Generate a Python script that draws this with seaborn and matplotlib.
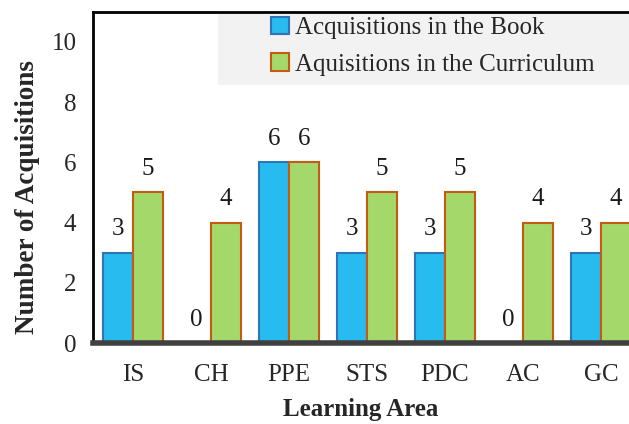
import matplotlib
matplotlib.use("Agg")
import matplotlib.pyplot as plt
import seaborn as sns
import pandas as pd

areas = ["IS", "CH", "PPE", "STS", "PDC", "AC", "GC"]
book = [3, 0, 6, 3, 3, 0, 3]
curriculum = [5, 4, 6, 5, 5, 4, 4]
series = ["Acquisitions in the Book", "Aquisitions in the Curriculum"]

df = pd.DataFrame({
    "area": areas * 2,
    "value": book + curriculum,
    "series": [series[0]] * len(areas) + [series[1]] * len(areas),
})

sns.set_style("white")
plt.rcParams["font.family"] = ["Liberation Serif", "DejaVu Serif"]
fs = 18

fig = plt.figure(figsize=(6.29, 4.24), dpi=100)
ax = fig.add_axes([0.148, 0.191, 0.852, 0.781])

fills = ["#27BBF0", "#A5D86B"]
edges = ["#2E75B6", "#C55A11"]

sns.barplot(data=df, x="area", y="value", hue="series", order=areas,
            hue_order=series, palette=fills, width=0.76, saturation=1,
            ax=ax, legend=False)

for cont, ec in zip(ax.containers, edges):
    for bar in cont:
        bar.set_edgecolor(ec)
        bar.set_linewidth(1.5)
    ax.bar_label(cont, padding=9, fontsize=fs, color="#1a1a1a")

ax.set_ylim(0, 11)
ax.set_xlim(-0.51, 6.36)
ax.set_yticks(range(0, 11, 2))
ax.tick_params(axis="y", direction="in", length=5, width=1.2, labelsize=fs, pad=12)
ax.tick_params(axis="x", length=0, labelsize=fs, pad=15)

ax.set_xlabel("Learning Area", fontsize=fs, fontweight="bold")
ax.set_ylabel("Number of Acquisitions", fontsize=19.5, fontweight="bold")
ax.xaxis.set_label_coords(0.5, -0.165)
ax.yaxis.set_label_coords(-0.1, 0.44)

for s in ["left", "top"]:
    ax.spines[s].set_color("black")
    ax.spines[s].set_linewidth(2)
ax.spines["bottom"].set_color("#404040")
ax.spines["bottom"].set_linewidth(4)
ax.spines["right"].set_visible(False)

# grey legend panel
ax.add_patch(plt.Rectangle((0.233, 0.779), 0.8, 0.215, transform=ax.transAxes,
                           facecolor="#f2f2f2", edgecolor="none", zorder=4,
                           clip_on=False))
handles = [plt.Rectangle((0, 0), 1, 1, facecolor=f, edgecolor=e, linewidth=1.5)
           for f, e in zip(fills, edges)]
leg = ax.legend(handles, series, loc="upper left", bbox_to_anchor=(0.332, 0.985),
                fontsize=fs, frameon=False, handlelength=0.7, handleheight=0.7,
                handletextpad=0.25, labelspacing=0.55, borderpad=0,
                borderaxespad=0)
leg.set_zorder(5)

fig.savefig("out.png", dpi=100)
